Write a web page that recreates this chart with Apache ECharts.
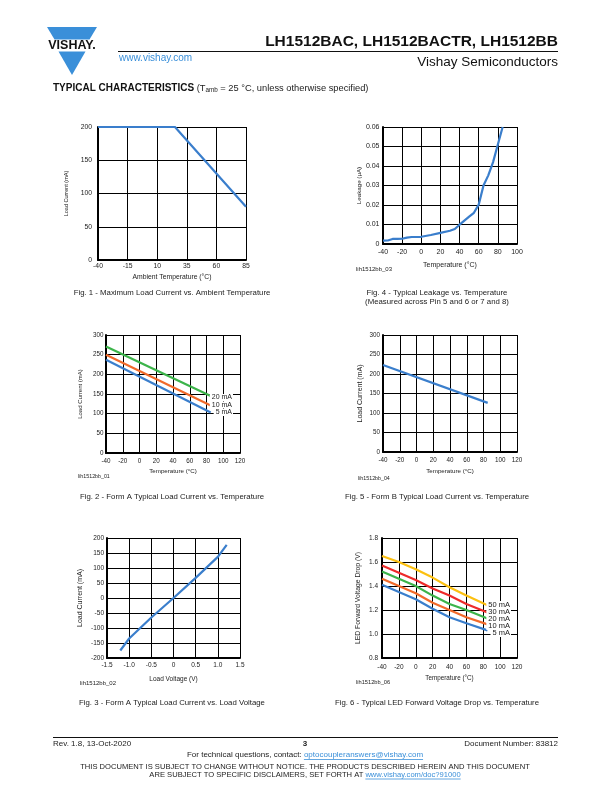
<!DOCTYPE html>
<html><head><meta charset="utf-8">
<script src="https://cdn.jsdelivr.net/npm/echarts@6/dist/echarts.min.js"></script>
<style>html,body{margin:0;padding:0;background:#fff}#c{width:612px;height:792px}</style>
</head><body><div id="c"></div>
<script>
// ---------- DATA ----------
// Fig. 1 - Maximum Load Current vs. Ambient Temperature
const fig1Temp = [-40, 25, 85];
const fig1Current = [200, 200, 80];
const fig1XTicks = [-40, -15, 10, 35, 60, 85];
const fig1YTicks = [0, 50, 100, 150, 200];

// Fig. 4 - Typical Leakage vs. Temperature
const fig4Temp = [-40, -35, -30, -25, -20, -15, -10, 0, 10, 20, 30, 35, 40, 45, 50, 55, 60, 65, 70, 75, 80, 85];
const fig4Leak = [0.0017, 0.0018, 0.0026, 0.0026, 0.0027, 0.0033, 0.0036, 0.0037, 0.0046, 0.0057, 0.0068, 0.0077, 0.0099, 0.0120, 0.0140, 0.0160, 0.0202, 0.0300, 0.0352, 0.0420, 0.0510, 0.0600];
const fig4XTicks = [-40, -20, 0, 20, 40, 60, 80, 100];
const fig4YTicks = [0, 0.01, 0.02, 0.03, 0.04, 0.05, 0.06];

// Fig. 2 - Form A Typical Load Current vs. Temperature
const fig2Temp = [-40, 85];
const fig2Current5mA = [237, 103];
const fig2Current10mA = [250, 121];
const fig2Current20mA = [271, 145];
const fig2XTicks = [-40, -20, 0, 20, 40, 60, 80, 100, 120];
const fig2YTicks = [0, 50, 100, 150, 200, 250, 300];

// Fig. 5 - Form B Typical Load Current vs. Temperature
const fig5Temp = [-40, 85];
const fig5Current = [223, 126];
const fig5XTicks = [-40, -20, 0, 20, 40, 60, 80, 100, 120];
const fig5YTicks = [0, 50, 100, 150, 200, 250, 300];

// Fig. 3 - Form A Typical Load Current vs. Load Voltage
const fig3Voltage = [-1.2, -1.0, -0.5, 0, 0.5, 1.0, 1.2];
const fig3Current = [-175, -135, -65, 0, 67, 137, 177];
const fig3XTicks = [-1.5, -1.0, -0.5, 0, 0.5, 1.0, 1.5];
const fig3YTicks = [-200, -150, -100, -50, 0, 50, 100, 150, 200];

// Fig. 6 - Typical LED Forward Voltage Drop vs. Temperature
const fig6Temp = [-40, -20, 0, 20, 40, 60, 85];
const fig6Vf50mA = [1.65, 1.60, 1.54, 1.47, 1.39, 1.32, 1.24];
const fig6Vf30mA = [1.57, 1.51, 1.45, 1.38, 1.32, 1.25, 1.18];
const fig6Vf20mA = [1.52, 1.46, 1.40, 1.32, 1.25, 1.20, 1.13];
const fig6Vf10mA = [1.46, 1.40, 1.34, 1.26, 1.20, 1.14, 1.08];
const fig6Vf5mA  = [1.41, 1.35, 1.29, 1.21, 1.14, 1.09, 1.03];
const fig6XTicks = [-40, -20, 0, 20, 40, 60, 80, 100, 120];
const fig6YTicks = [0.8, 1.0, 1.2, 1.4, 1.6, 1.8];

const fig2Legend = ['20 mA', '10 mA', '5 mA'];
const fig6Legend = ['50 mA', '30 mA', '20 mA', '10 mA', '5 mA'];

// ---------- STYLE ----------
const FF = '"Liberation Sans", Arial, Helvetica, sans-serif';
const BLUE = '#3a7ecc', GREEN = '#3cb44a', ORANGE = '#f26a2a', RED = '#ee2a2a', YELLOW = '#fcc010';
const INK = '#222';
const VBLUE = '#3a8fd9';

const _ctx = document.createElement('canvas').getContext('2d');
function tw(text, font) { _ctx.font = font; return _ctx.measureText(text).width; }
function fnt(size, weight) { return (weight || 'normal') + ' ' + size + 'px ' + FF; }

function txt(text, x, y, size, o) {
  o = o || {};
  const st = {
    text: text, x: x, y: y, fill: o.fill || INK, font: fnt(size, o.weight),
    align: o.align || 'left', verticalAlign: 'middle',
    textAlign: o.align || 'left', textVerticalAlign: 'middle'
  };
  if (o.bg) { st.backgroundColor = o.bg; st.padding = o.pad || [0, 1]; }
  return { type: 'text', silent: true, z: 100, style: st };
}
function hline(x1, x2, y, w, c) {
  return { type: 'line', silent: true, z: 100, shape: { x1: x1, y1: y, x2: x2, y2: y }, style: { stroke: c || '#000', lineWidth: w || 1 } };
}

function iv(t) { return +(t[1] - t[0]).toFixed(6); }

function axis(ticks, idx, p) {
  return {
    type: 'value', gridIndex: idx,
    min: ticks[0], max: ticks[ticks.length - 1], interval: iv(ticks),
    axisLine: { show: true, onZero: false, lineStyle: { color: '#000', width: 2 } },
    axisTick: { show: false },
    splitLine: { show: true, lineStyle: { color: '#000', width: 1 } },
    axisLabel: { fontSize: p.fs, color: INK, fontFamily: FF, margin: p.m, formatter: p.fmt, showMinLabel: true, showMaxLabel: true },
    name: p.name, nameLocation: 'middle', nameGap: p.gap,
    nameTextStyle: { fontSize: p.ns, color: INK, fontFamily: FF }
  };
}

function line(xs, ys, color, idx) {
  return {
    type: 'line', xAxisIndex: idx, yAxisIndex: idx,
    data: xs.map(function (x, i) { return [x, ys[i]]; }),
    symbol: 'none', showSymbol: false, smooth: false,
    lineStyle: { color: color, width: 2.2 }, itemStyle: { color: color },
    animation: false, z: 5
  };
}

const f2 = function (v) { return v === 0 ? '0' : v.toFixed(2); };
const f1 = function (v) { return v.toFixed(1); };
const f1z = function (v) { return v === 0 ? '0' : v.toFixed(1); };

// ---------- GRAPHIC TEXT ----------
const G = [];
// logo
G.push({ type: 'polygon', silent: true, shape: { points: [[47, 27], [97, 27], [89.5, 39.5], [54.5, 39.5]] }, style: { fill: VBLUE } });
G.push({ type: 'polygon', silent: true, shape: { points: [[58.5, 51.5], [85.5, 51.5], [72, 75]] }, style: { fill: VBLUE } });
G.push(txt('VISHAY.', 72, 45.5, 12.5, { weight: 'bold', align: 'center', fill: '#111' }));
G.push(txt('www.vishay.com', 119, 58.5, 10, { fill: VBLUE }));
G.push(txt('LH1512BAC, LH1512BACTR, LH1512BB', 558, 42, 15.5, { weight: 'bold', align: 'right', fill: '#111' }));
G.push(hline(118, 558, 51.5, 1, '#111'));
G.push(txt('Vishay Semiconductors', 558, 62, 13.5, { align: 'right', fill: '#111' }));
// Typical characteristics line
(function () {
  let x = 53; const y = 88;
  const a = 'TYPICAL CHARACTERISTICS', b = ' (T', s = 'amb', c = ' = 25 °C, unless otherwise specified)';
  G.push(txt(a, x, y, 10, { weight: 'bold', fill: '#111' })); x += tw(a, fnt(10, 'bold'));
  G.push(txt(b, x, y, 9.3)); x += tw(b, fnt(9.3));
  G.push(txt(s, x, y + 2.5, 6.3)); x += tw(s, fnt(6.3));
  G.push(txt(c, x, y, 9.3));
})();

// captions
G.push(txt('Fig. 1 - Maximum Load Current vs. Ambient Temperature', 172, 293, 7.8, { align: 'center' }));
G.push(txt('Fig. 4 - Typical Leakage vs. Temperature', 437, 293, 7.8, { align: 'center' }));
G.push(txt('(Measured across Pin 5 and 6 or 7 and 8)', 437, 302, 7.8, { align: 'center' }));
G.push(txt('Fig. 2 - Form A Typical Load Current vs. Temperature', 172, 497, 7.8, { align: 'center' }));
G.push(txt('Fig. 5 - Form B Typical Load Current vs. Temperature', 437, 497, 7.8, { align: 'center' }));
G.push(txt('Fig. 3 - Form A Typical Load Current vs. Load Voltage', 172, 703, 7.8, { align: 'center' }));
G.push(txt('Fig. 6 - Typical LED Forward Voltage Drop vs. Temperature', 437, 703, 7.8, { align: 'center' }));

// drawing ids
G.push(txt('lih1512bb_03', 356, 269, 6));
G.push(txt('lih1512bb_01', 78, 477, 5.3));
G.push(txt('lih1512bb_04', 358, 479, 5.3));
G.push(txt('lih1512bb_02', 80, 683, 6));
G.push(txt('lih1512bb_06', 356, 682, 5.7));

// in-plot series labels
const fig2LabelY = [397.5, 405, 412.5];
fig2Legend.forEach(function (t, i) { G.push(txt(t, 233, fig2LabelY[i], 7, { align: 'right', bg: '#fff', pad: [0, 1, 0, 2] })); });
const fig6LabelY = [605, 612, 619, 626, 633];
fig6Legend.forEach(function (t, i) { G.push(txt(t, 511, fig6LabelY[i], 7.5, { align: 'right', bg: '#fff', pad: [0, 1, 0, 2] })); });

// footer
G.push(hline(53, 558, 737.5, 1, '#111'));
G.push(txt('Rev. 1.8, 13-Oct-2020', 53, 743.5, 8));
G.push(txt('3', 305, 743.5, 8, { weight: 'bold', align: 'center' }));
G.push(txt('Document Number: 83812', 558, 743.5, 8, { align: 'right' }));
(function () {
  const fs = 8;
  const a = 'For technical questions, contact: ', b = 'optocoupleranswers@vishay.com';
  const wa = tw(a, fnt(fs)), wb = tw(b, fnt(fs));
  let x = 305 - (wa + wb) / 2;
  G.push(txt(a, x, 755, fs)); x += wa;
  G.push(txt(b, x, 755, fs, { fill: VBLUE }));
  G.push(hline(x, x + wb, 759.5, 0.8, VBLUE));
  const fs2 = 7.6;
  G.push(txt('THIS DOCUMENT IS SUBJECT TO CHANGE WITHOUT NOTICE. THE PRODUCTS DESCRIBED HEREIN AND THIS DOCUMENT', 305, 766.5, fs2, { align: 'center' }));
  const c = 'ARE SUBJECT TO SPECIFIC DISCLAIMERS, SET FORTH AT ', d = 'www.vishay.com/doc?91000';
  const wc = tw(c, fnt(fs2)), wd = tw(d, fnt(fs2));
  x = 305 - (wc + wd) / 2;
  G.push(txt(c, x, 774.5, fs2)); x += wc;
  G.push(txt(d, x, 774.5, fs2, { fill: VBLUE }));
  G.push(hline(x, x + wd, 779, 0.8, VBLUE));
})();

// ---------- CHART ----------
const chart = echarts.init(document.getElementById('c'), null, { renderer: 'canvas' });
chart.setOption({
  backgroundColor: '#fff',
  animation: false,
  grid: [
    { left: 98, top: 127, width: 148, height: 133 },   // fig1
    { left: 383, top: 127, width: 134, height: 117 },  // fig4
    { left: 106, top: 335, width: 134, height: 118 },  // fig2
    { left: 383, top: 335, width: 134, height: 117 },  // fig5
    { left: 107, top: 538, width: 133, height: 120 },  // fig3
    { left: 382, top: 538, width: 135, height: 120 }   // fig6
  ],
  xAxis: [
    axis(fig1XTicks, 0, { fs: 6.8, m: 3, name: 'Ambient Temperature (°C)', ns: 6.8, gap: 14 }),
    axis(fig4XTicks, 1, { fs: 7, m: 5, name: 'Temperature (°C)', ns: 7, gap: 18 }),
    axis(fig2XTicks, 2, { fs: 6.3, m: 5.5, name: 'Temperature (°C)', ns: 6.2, gap: 15 }),
    axis(fig5XTicks, 3, { fs: 6.3, m: 5.5, name: 'Temperature (°C)', ns: 6.2, gap: 16.5 }),
    axis(fig3XTicks, 4, { fs: 6.5, m: 4, name: 'Load Voltage (V)', ns: 6.5, gap: 18, fmt: f1z }),
    axis(fig6XTicks, 5, { fs: 6.5, m: 5.5, name: 'Temperature (°C)', ns: 6.3, gap: 17 })
  ],
  yAxis: [
    axis(fig1YTicks, 0, { fs: 6.8, m: 6, name: 'Load Current (mA)', ns: 5.5, gap: 29 }),
    axis(fig4YTicks, 1, { fs: 7, m: 3.5, name: 'Leakage (µA)', ns: 6.2, gap: 21, fmt: f2 }),
    axis(fig2YTicks, 2, { fs: 6.3, m: 2.5, name: 'Load Current (mA)', ns: 6, gap: 23 }),
    axis(fig5YTicks, 3, { fs: 6.3, m: 3, name: 'Load Current (mA)', ns: 7, gap: 19.5 }),
    axis(fig3YTicks, 4, { fs: 6.5, m: 3, name: 'Load Current (mA)', ns: 7, gap: 23 }),
    axis(fig6YTicks, 5, { fs: 6.5, m: 4, name: 'LED Forward Voltage Drop (V)', ns: 6.8, gap: 20, fmt: f1 })
  ],
  series: [
    line(fig1Temp, fig1Current, BLUE, 0),
    line(fig4Temp, fig4Leak, BLUE, 1),
    line(fig2Temp, fig2Current20mA, GREEN, 2),
    line(fig2Temp, fig2Current10mA, ORANGE, 2),
    line(fig2Temp, fig2Current5mA, BLUE, 2),
    line(fig5Temp, fig5Current, BLUE, 3),
    line(fig3Voltage, fig3Current, BLUE, 4),
    line(fig6Temp, fig6Vf50mA, YELLOW, 5),
    line(fig6Temp, fig6Vf30mA, RED, 5),
    line(fig6Temp, fig6Vf20mA, GREEN, 5),
    line(fig6Temp, fig6Vf10mA, ORANGE, 5),
    line(fig6Temp, fig6Vf5mA, BLUE, 5)
  ],
  graphic: { elements: G }
});
</script></body></html>
